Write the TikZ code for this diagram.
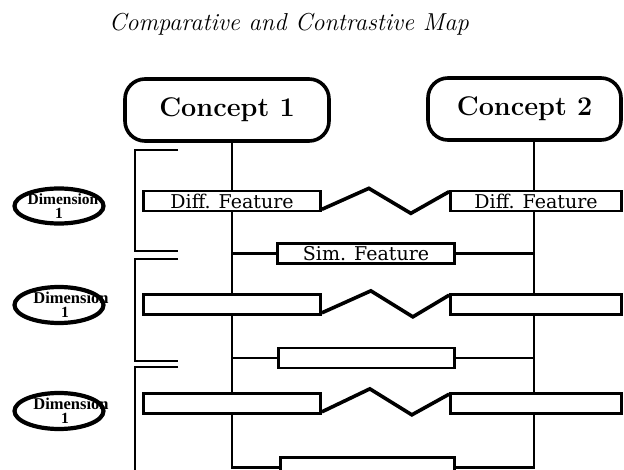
\documentclass[tikz,border=0pt]{standalone}
\usepackage{fontspec}
\newfontfamily\featfont{DejaVu Serif}
\newfontfamily\dimfont{Liberation Serif}
\usetikzlibrary{shapes.geometric,calc}
\begin{document}
\begin{tikzpicture}[x=1pt,y=-1pt,
  concept/.style={draw,line width=3.6pt,rounded corners=20pt,minimum height=62pt,
    inner sep=0pt,font=\fontsize{27}{30}\selectfont\bfseries},
  feature/.style={draw,line width=2.7pt,minimum width=177pt,minimum height=20pt,
    inner sep=0pt,font=\featfont\fontsize{19}{22}\selectfont},
  dimension/.style={ellipse,draw,line width=4.2pt,minimum width=89pt,minimum height=34pt,
    inner sep=0pt,align=center,font=\dimfont\bfseries\fontsize{15.5}{13}\selectfont},
  trunk/.style={line width=2.4pt},
  contrast/.style={line width=3.6pt,line join=miter},
  bracket/.style={line width=2.6pt}
]
\useasboundingbox (0,0) rectangle (624,470);
\clip (0,0) rectangle (624,470);

% title
\node[font=\fontsize{24.5}{28}\selectfont\itshape,anchor=base] (title) at (289,31)
  {Comparative and Contrastive Map};

% the two concepts
\node[concept,minimum width=204pt] (c1) at (227,110) {Concept 1};
\node[concept,minimum width=193pt] (c2) at (524.5,109) {Concept 2};
\coordinate (t1) at ([xshift=5pt]c1.south);
\coordinate (t2) at ([xshift=9.5pt]c2.south);

% differing features (left / right) per dimension
\node[feature] (d1l) at (232,201) {Diff. Feature};
\node[feature,minimum width=171pt] (d1r) at (536,201) {Diff. Feature};
\node[feature] (d2l) at (232,304.5) {};
\node[feature,minimum width=171pt] (d2r) at (536,304.5) {};
\node[feature] (d3l) at (232,403.5) {};
\node[feature,minimum width=171pt] (d3r) at (536,403.5) {};

% similar features
\node[feature] (s1) at (366,253.5) {Sim. Feature};
\node[feature,minimum width=176pt] (s2) at (366.5,358) {};
\node[feature,minimum width=174pt] (s3) at (367.5,467.5) {};

% trunks under each concept
\draw[trunk] (t1) -- (t1 |- d1l.north);
\draw[trunk] (t1 |- d1l.south) -- (t1 |- d2l.north);
\draw[trunk] (t1 |- d2l.south) -- (t1 |- d3l.north);
\draw[trunk] (t1 |- d3l.south) -- (t1 |- s3.west) -- (s3.west);
\draw[trunk] (t2) -- (t2 |- d1r.north);
\draw[trunk] (t2 |- d1r.south) -- (t2 |- d2r.north);
\draw[trunk] (t2 |- d2r.south) -- (t2 |- d3r.north);
\draw[trunk] (t2 |- d3r.south) -- (t2 |- s3.east) -- (s3.east);

% links to the similar features
\draw[trunk] (t1 |- s1.west) -- (s1.west);
\draw[trunk] (s1.east) -- (t2 |- s1.east);
\draw[trunk] (t1 |- s2.west) -- (s2.west);
\draw[trunk] (s2.east) -- (t2 |- s2.east);

% contrast zigzags between differing features
\draw[contrast] ([yshift=3pt]d1l.south east) -- ++(47,-21) -- ++(42,25) -- ([yshift=-2pt]d1r.north west);
\draw[contrast] ([yshift=3pt]d2l.south east) -- ++(49,-22) -- ++(42,26) -- ([yshift=-2pt]d2r.north west);
\draw[contrast] ([yshift=3pt]d3l.south east) -- ++(48,-23) -- ++(42,26) -- ([yshift=-2pt]d3r.north west);

% brackets grouping each dimension
\draw[bracket] (178,150) -| (135,251) -- (178,251);
\draw[bracket] (178,259) -| (135,361) -- (178,361);
\draw[bracket] (178,367) -| (135,475);

% dimension labels
\node[dimension] (e1) at (59,206) {\makebox[40pt]{\hspace*{8pt}Dimension}\\[1pt]1};
\node[dimension] (e2) at (59,305) {\makebox[40pt]{\hspace*{24pt}\fontsize{16.5}{13}\selectfont Dimension}\\[1pt]\hspace*{12pt}1};
\node[dimension] (e3) at (59,411) {\makebox[40pt]{\hspace*{24pt}\fontsize{16.5}{13}\selectfont Dimension}\\[1pt]\hspace*{12pt}1};
\end{tikzpicture}
\end{document}
